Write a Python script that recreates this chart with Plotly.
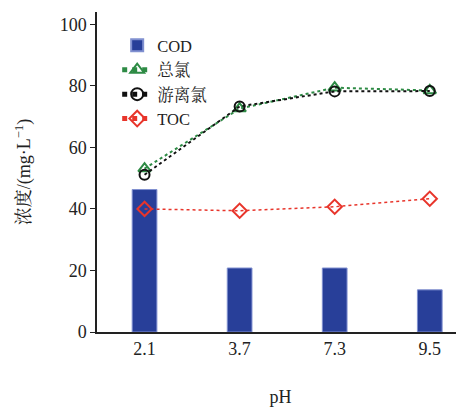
import plotly.graph_objects as go

ph = ["2.1", "3.7", "7.3", "9.5"]
cod = [46.3, 20.8, 20.8, 13.7]
total_cl = [53.1, 72.6, 79.4, 78.5]
free_cl = [51.1, 73.3, 78.2, 78.3]
toc = [40.0, 39.4, 40.7, 43.3]

FONT = "Times New Roman, Liberation Serif, Noto Serif CJK SC, Noto Sans CJK SC, serif"

fig = go.Figure()
fig.add_trace(go.Bar(x=ph, y=cod, name="COD", width=0.26,
                     marker=dict(color="#283f99", line=dict(color="#8090d0", width=1))))
fig.add_trace(go.Scatter(x=ph, y=total_cl, name="总氯", mode="lines+markers",
                         line=dict(color="#2e8b45", dash="dot", width=2),
                         marker=dict(symbol="triangle-up-open", size=11, color="#2e8b45",
                                     line=dict(width=2))))
fig.add_trace(go.Scatter(x=ph, y=free_cl, name="游离氯", mode="lines+markers",
                         line=dict(color="#111111", dash="dot", width=2),
                         marker=dict(symbol="circle-open", size=10, color="#111111",
                                     line=dict(width=2))))
fig.add_trace(go.Scatter(x=ph, y=toc, name="TOC", mode="lines+markers",
                         line=dict(color="#e8352b", dash="dot", width=1.5),
                         marker=dict(symbol="diamond-open", size=11, color="#e8352b",
                                     line=dict(width=2))))

fig.update_layout(
    width=456, height=400,
    margin=dict(l=89, r=0, t=4, b=76, autoexpand=False),
    paper_bgcolor="white", plot_bgcolor="white",
    font=dict(family=FONT, size=18, color="#222"),
    showlegend=True,
    legend=dict(x=0.055, y=0.95, xanchor="left", yanchor="top",
                bgcolor="rgba(0,0,0,0)", font=dict(size=16.5, family=FONT),
                tracegroupgap=0, itemsizing="constant"),
    xaxis=dict(range=[-0.5, 3.36], showline=True, linecolor="#222", linewidth=1.5,
               ticks="", showgrid=False, zeroline=False,
               title=dict(text="pH", standoff=32, font=dict(size=18))),
    yaxis=dict(range=[0, 104], showline=True, linecolor="#222", linewidth=1.5,
               ticks="outside", ticklen=5, tickcolor="#222", tickvals=[0, 20, 40, 60, 80, 100],
               showgrid=False, zeroline=False,
               title=dict(text="浓度/(mg·L<sup>−1</sup>)", standoff=24, font=dict(size=18))),
)

fig.write_html("out.html")
